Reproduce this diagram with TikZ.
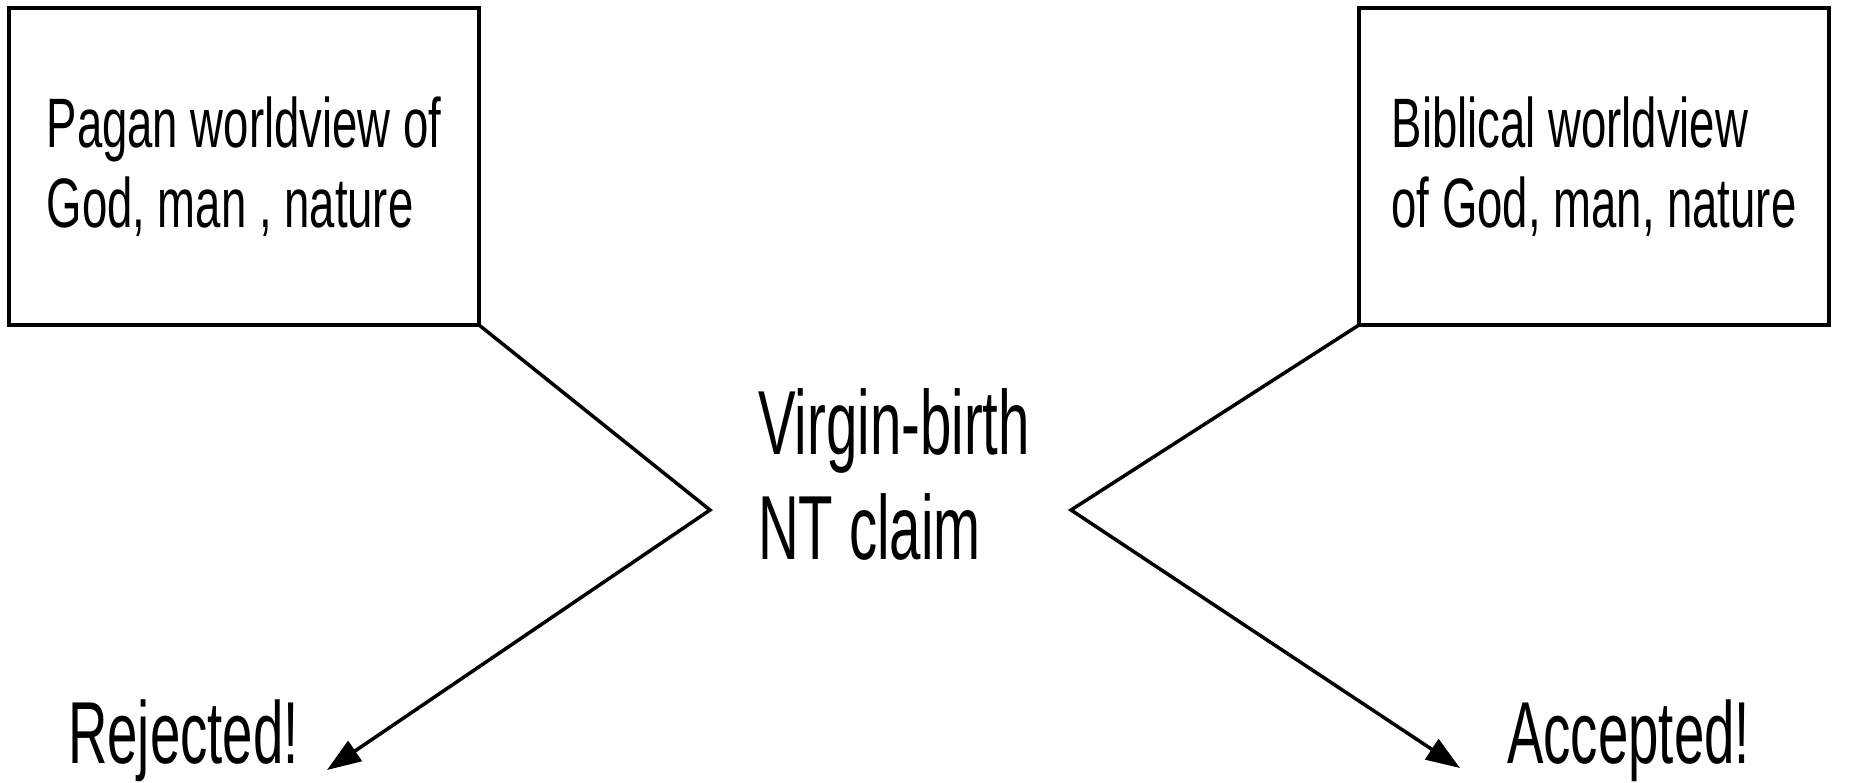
\documentclass[tikz,border=0pt]{standalone}
\usepackage{fontspec}
\setmainfont{Liberation Sans}
\newfontfamily\boxfont[FakeStretch=0.65]{Liberation Sans}
\newfontfamily\bigfont[FakeStretch=0.62]{Liberation Sans}
\usetikzlibrary{arrows.meta}
\begin{document}
\begin{tikzpicture}[x=1pt,y=-1pt,
  wbox/.style={draw,line width=4pt,outer sep=0pt,minimum width=470pt,minimum height=317pt,
    align=left,inner sep=0pt,font=\boxfont\fontsize{70}{80}\selectfont},
  conn/.style={line width=3.5pt,line join=miter},
  bigtext/.style={inner sep=0pt,font=\bigfont\fontsize{88}{105}\selectfont},
  claimtext/.style={inner sep=0pt,align=left,font=\bigfont\fontsize{91}{105}\selectfont},
  tip/.style={-{Triangle[length=34pt,width=24pt]}}]
\useasboundingbox (0,0) rectangle (1854,782);
\node[wbox] (pagan) at (244,166.5) {Pagan worldview of\\God, man , nature};
\node[wbox] (biblical) at (1594,166.5) {Biblical worldview\\of God, man, nature};
\node[claimtext,anchor=north west] (claim) at (758,388) {Virgin-birth\\NT claim};
\node[bigtext,anchor=base west] (rejected) at (68,763) {Rejected!};
\node[bigtext,anchor=base west] (accepted) at (1507,763) {Accepted!};
\coordinate (lv) at (710,510);
\coordinate (rv) at (1071,510);
\coordinate (rtip) at (327,770);
\coordinate (atip) at (1460,768);
\draw[conn,tip] (pagan.south east) -- (lv) -- (rtip);
\draw[conn,tip] (biblical.south west) -- (rv) -- (atip);
\end{tikzpicture}
\end{document}
